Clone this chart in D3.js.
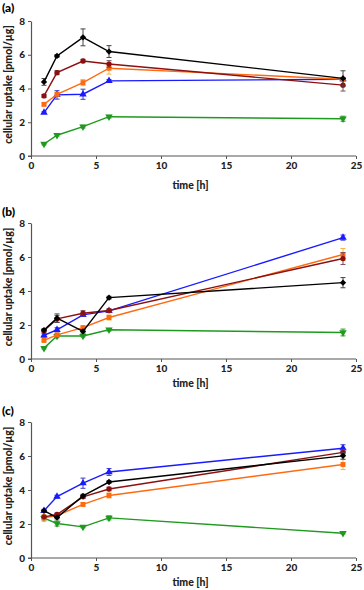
<!DOCTYPE html>
<html>
<head>
<meta charset="utf-8">
<script src="https://cdn.jsdelivr.net/npm/d3@7"></script>
<style>
  body { margin: 0; background: #fff; }
  svg { display: block; font-family: Lato, "Open Sans", sans-serif; }
</style>
</head>
<body>
<div id="chart"></div>
<script>
const times = [1, 2, 4, 6, 24]
const xTicks = [0, 5, 10, 15, 20, 25]
const yTicks = [0, 2, 4, 6, 8]
const panelLabels = ['(a)', '(b)', '(c)']

// series order: green, blue, orange, dark red, black
const lineColors = ['#1f9a1f', '#1a1aff', '#ff6a10', '#8c1010', '#000000']
const errColors = ['#3a9a3a', '#3b3bd0', '#f2b64a', '#7a5060', '#444444']
const symbols = [d3.symbolTriangle, d3.symbolTriangle, d3.symbolSquare, d3.symbolCircle, d3.symbolSquare]

const meansA = [
  [0.71, 1.23, 1.74, 2.33, 2.21],
  [2.57, 3.62, 3.66, 4.45, 4.55],
  [3.06, 3.66, 4.35, 5.20, 4.55],
  [3.56, 4.94, 5.63, 5.45, 4.20],
  [4.39, 5.93, 7.03, 6.19, 4.60],
]
const errA = [
  [0.05, 0.05, 0.08, 0.08, 0.15],
  [0.05, 0.25, 0.30, 0.08, 0.10],
  [0.08, 0.10, 0.18, 0.35, 0.10],
  [0.08, 0.12, 0.10, 0.20, 0.35],
  [0.20, 0.08, 0.50, 0.35, 0.45],
]
const meansB = [
  [0.64, 1.35, 1.35, 1.72, 1.56],
  [1.39, 1.72, 2.60, 2.83, 7.14],
  [1.09, 1.42, 1.85, 2.44, 6.15],
  [1.66, 2.36, 2.69, 2.85, 5.91],
  [1.70, 2.40, 1.62, 3.61, 4.49],
]
const errB = [
  [0.05, 0.10, 0.05, 0.08, 0.20],
  [0.10, 0.12, 0.08, 0.10, 0.15],
  [0.05, 0.08, 0.08, 0.15, 0.35],
  [0.08, 0.20, 0.15, 0.10, 0.35],
  [0.08, 0.25, 0.10, 0.08, 0.30],
]
const meansC = [
  [2.34, 2.03, 1.83, 2.36, 1.46],
  [2.78, 3.61, 4.40, 5.06, 6.46],
  [2.36, 2.50, 3.15, 3.68, 5.50],
  [2.42, 2.56, 3.60, 4.06, 6.21],
  [2.78, 2.38, 3.65, 4.47, 6.01],
]
const errC = [
  [0.10, 0.15, 0.05, 0.12, 0.05],
  [0.08, 0.08, 0.30, 0.20, 0.20],
  [0.20, 0.10, 0.10, 0.15, 0.30],
  [0.05, 0.08, 0.10, 0.10, 0.15],
  [0.05, 0.08, 0.10, 0.08, 0.20],
]

const panels = [
  { label: panelLabels[0], means: meansA, errs: errA, top: 21, bottom: 156, labelY: 12, xLabelY: 189 },
  { label: panelLabels[1], means: meansB, errs: errB, top: 223, bottom: 359, labelY: 216, xLabelY: 387 },
  { label: panelLabels[2], means: meansC, errs: errC, top: 422, bottom: 558, labelY: 415, xLabelY: 586 },
]

const width = 364
const height = 590
const left = 31
const right = 356

const svg = d3.select('#chart').append('svg')
  .attr('width', width)
  .attr('height', height)

panels.forEach(p => {
  const x = d3.scaleLinear().domain([0, 25]).range([left, right])
  const y = d3.scaleLinear().domain([0, 8]).range([p.bottom, p.top])

  const g = svg.append('g')

  g.append('text')
    .attr('x', 2)
    .attr('y', p.labelY)
    .attr('font-size', 12)
    .attr('font-weight', 900)
    .text(p.label)

  const xAxis = g.append('g')
    .attr('transform', `translate(0,${p.bottom})`)
    .call(d3.axisBottom(x).tickValues(xTicks).tickSize(3).tickSizeOuter(0))
  const yAxis = g.append('g')
    .attr('transform', `translate(${left},0)`)
    .call(d3.axisLeft(y).tickValues(yTicks).tickSize(3).tickSizeOuter(0))

  ;[xAxis, yAxis].forEach(a => {
    a.select('.domain').attr('stroke', '#555').attr('stroke-width', 1.2)
    a.selectAll('.tick line').attr('stroke', '#555')
    a.selectAll('.tick text')
      .attr('font-size', 10)
      .attr('font-weight', 900)
      .attr('font-family', 'Lato, "Open Sans", sans-serif')
      .attr('fill', '#222')
  })
  xAxis.select('.domain').attr('d', `M${left - 3},0H${right}`)

  g.append('text')
    .attr('x', (left + right) / 2 - 3)
    .attr('y', p.xLabelY)
    .attr('text-anchor', 'middle')
    .attr('font-size', 10.5)
    .attr('font-weight', 900)
    .attr('fill', '#222')
    .text('time [h]')

  g.append('text')
    .attr('transform', `translate(12,${(p.top + p.bottom) / 2 - 4}) rotate(-90)`)
    .attr('text-anchor', 'middle')
    .attr('font-size', 10.5)
    .attr('font-weight', 900)
    .attr('fill', '#222')
    .text('cellular uptake [pmol/µg]')

  const line = d3.line()
    .x((d, i) => x(times[i]))
    .y(d => y(d))

  p.means.forEach((vals, s) => {
    const sg = g.append('g')

    // error bars
    vals.forEach((v, i) => {
      const e = p.errs[s][i]
      const cx = x(times[i])
      sg.append('path')
        .attr('d', `M${cx},${y(v - e)}V${y(v + e)}M${cx - 2.5},${y(v + e)}H${cx + 2.5}M${cx - 2.5},${y(v - e)}H${cx + 2.5}`)
        .attr('stroke', errColors[s])
        .attr('stroke-width', 1)
        .attr('fill', 'none')
    })

    sg.append('path')
      .datum(vals)
      .attr('d', line)
      .attr('fill', 'none')
      .attr('stroke', lineColors[s])
      .attr('stroke-width', 1.4)

    const rot = s === 0 ? ' rotate(180)' : s === 4 ? ' rotate(45)' : ''
    sg.selectAll('.marker')
      .data(vals)
      .join('path')
        .attr('class', 'marker')
        .attr('d', d3.symbol().type(symbols[s]).size(s === 3 ? 22 : s === 4 ? 20 : 24))
        .attr('transform', (d, i) => `translate(${x(times[i])},${y(d)})${rot}`)
        .attr('fill', lineColors[s])
  })
})
</script>
</body>
</html>
